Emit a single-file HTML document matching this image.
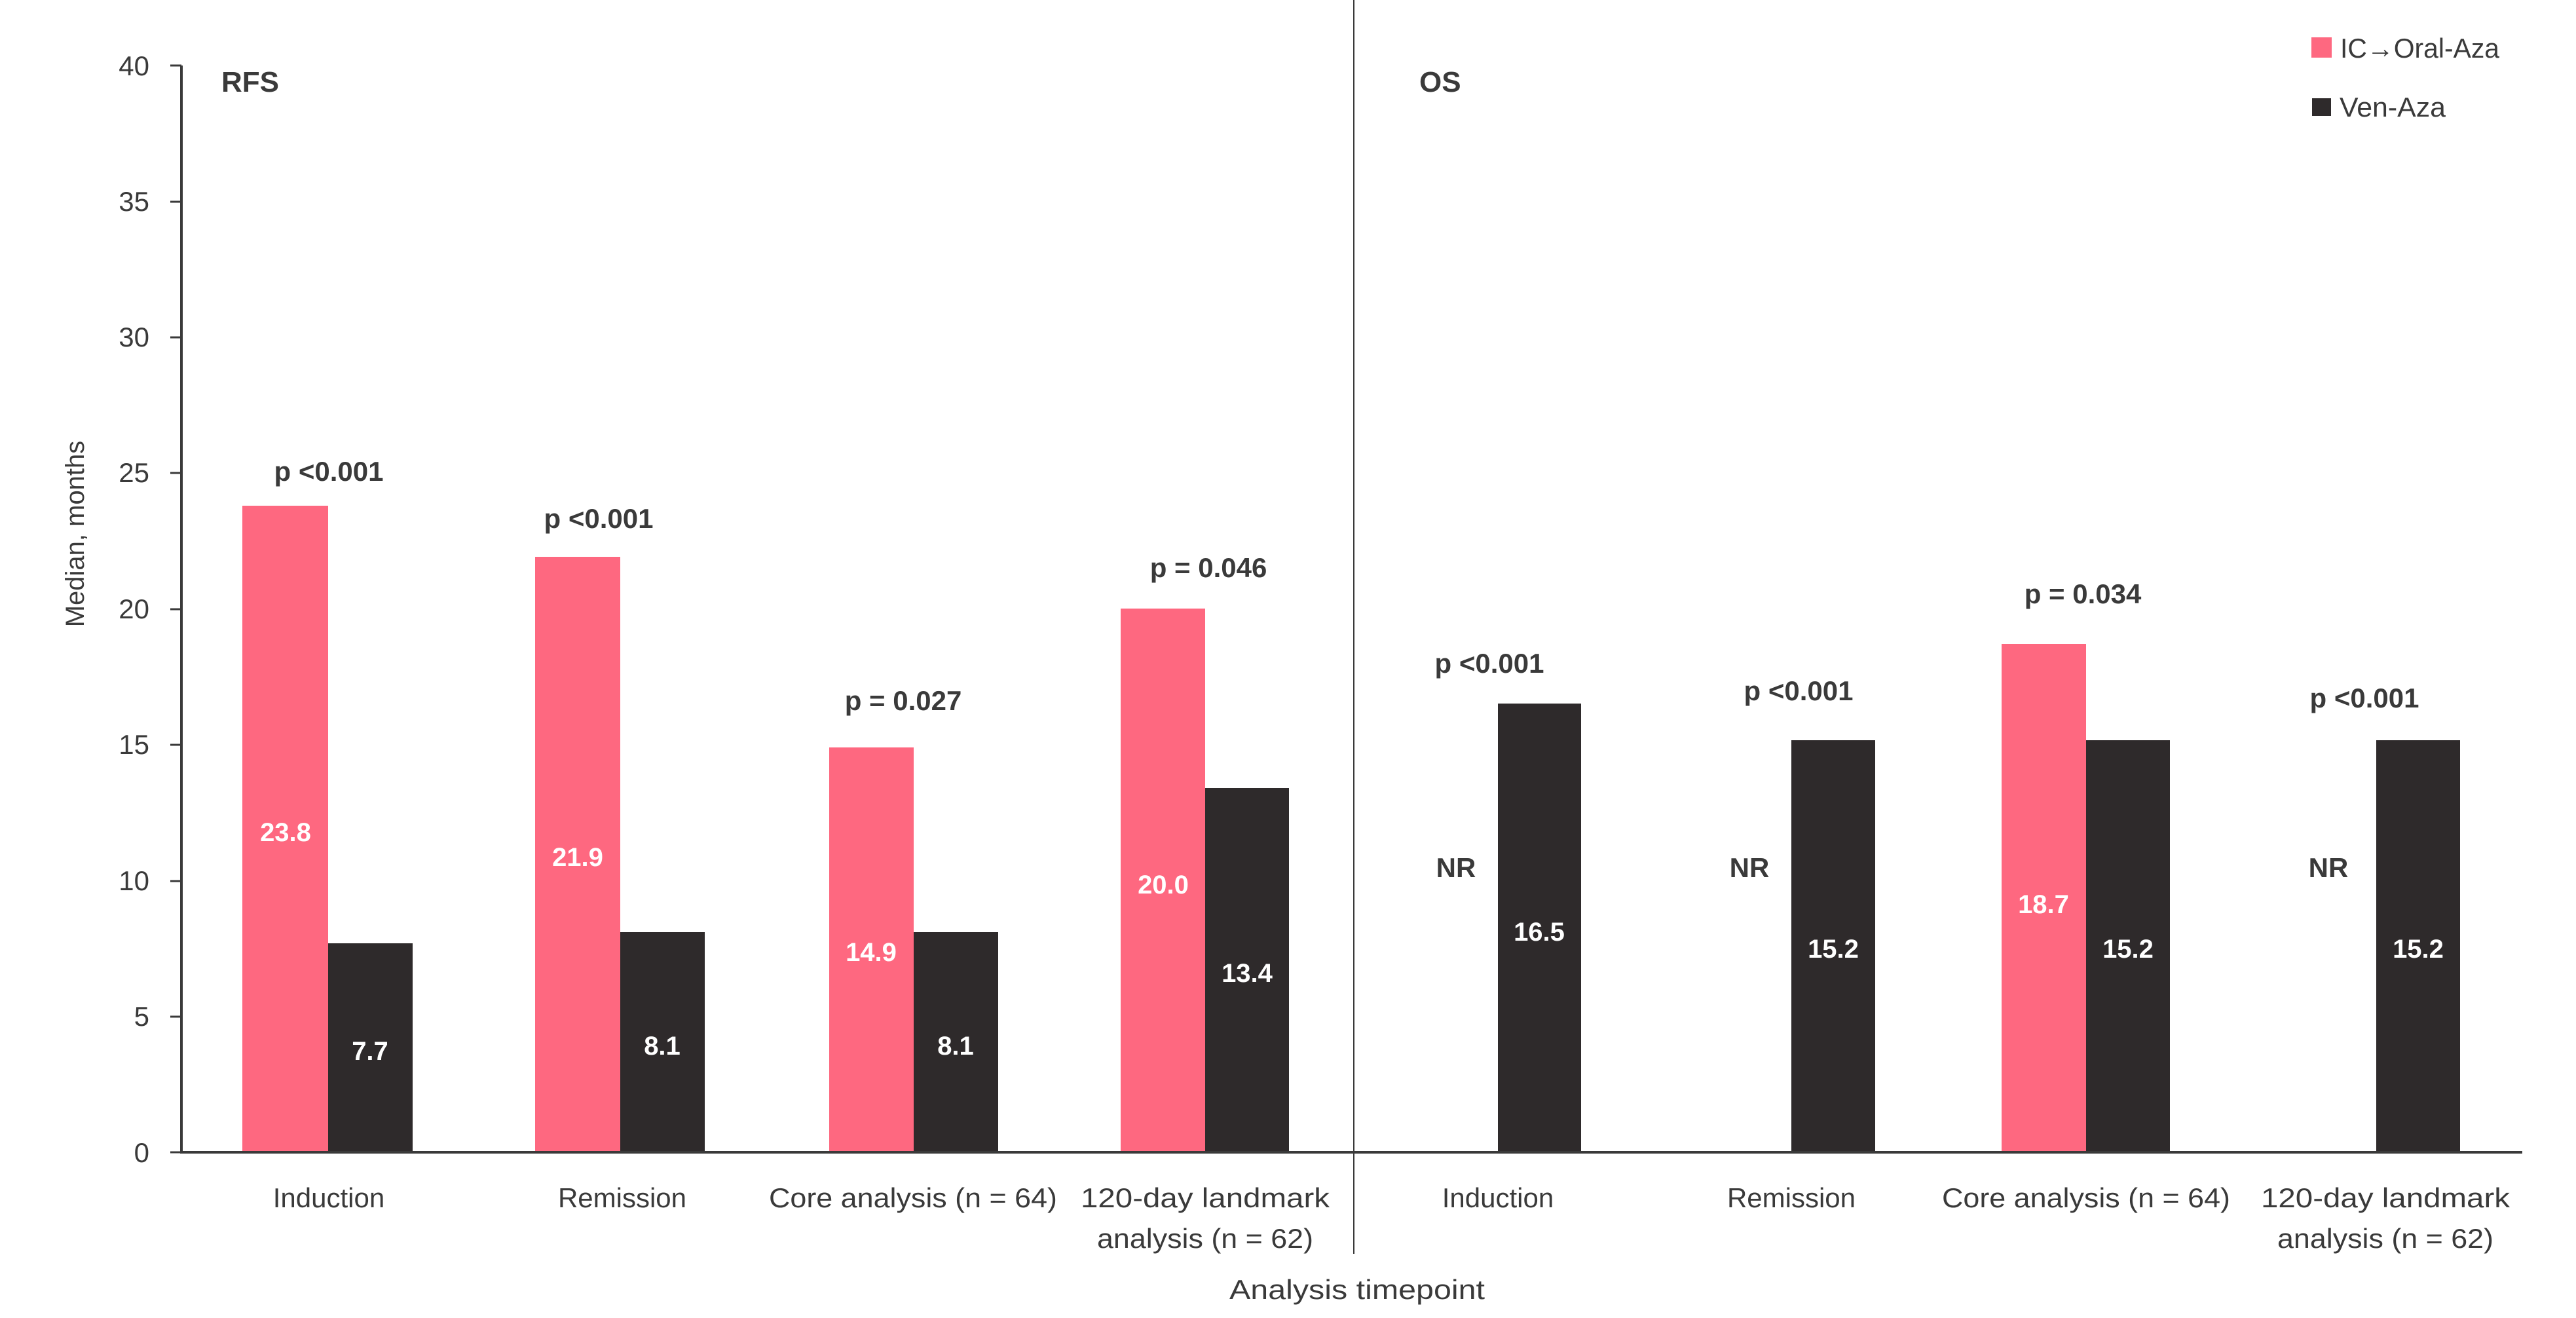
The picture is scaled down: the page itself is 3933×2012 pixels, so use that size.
<!DOCTYPE html>
<html><head><meta charset="utf-8"><style>
html,body{margin:0;padding:0;background:#fff;}
svg{display:block;}
text{font-family:"Liberation Sans",sans-serif;}
</style></head><body>
<svg width="3933" height="2012" viewBox="0 0 3933 2012" xmlns="http://www.w3.org/2000/svg">
<g fill="#3a3a3a" font-size="42" text-anchor="end">
<text x="228" y="1774">0</text>
<text x="228" y="1359">10</text>
<text x="228" y="1566">5</text>
<text x="228" y="1151">15</text>
<text x="228" y="944">20</text>
<text x="228" y="736">25</text>
<text x="228" y="529">30</text>
<text x="228" y="322">35</text>
<text x="228" y="115">40</text>
</g>
<g stroke="#3a3a3a" stroke-width="3">
<line x1="260" y1="100" x2="277" y2="100"/><line x1="260" y1="308" x2="277" y2="308"/>
<line x1="260" y1="515" x2="277" y2="515"/><line x1="260" y1="722" x2="277" y2="722"/>
<line x1="260" y1="930" x2="277" y2="930"/><line x1="260" y1="1137" x2="277" y2="1137"/>
<line x1="260" y1="1345" x2="277" y2="1345"/><line x1="260" y1="1552" x2="277" y2="1552"/>
<line x1="260" y1="1759" x2="277" y2="1759"/>
</g>
<line x1="277" y1="100" x2="277" y2="1761" stroke="#3a3a3a" stroke-width="4"/>
<line x1="2067" y1="0" x2="2067" y2="1914" stroke="#3a3a3a" stroke-width="2"/>
<text transform="translate(128,815) rotate(-90)" text-anchor="middle" font-size="40" fill="#3a3a3a">Median, months</text>
<text x="338" y="140" font-size="44" font-weight="bold" fill="#3a3a3a">RFS</text>
<text x="2167" y="140" font-size="44" font-weight="bold" fill="#3a3a3a">OS</text>
<g fill="#fe6880">
<rect x="370" y="772" width="131" height="987"/>
<rect x="817" y="850" width="130" height="909"/>
<rect x="1266" y="1141" width="129" height="618"/>
<rect x="1711" y="929" width="129" height="830"/>
<rect x="3056" y="983" width="129" height="776"/>
</g>
<g fill="#2e2a2b">
<rect x="501" y="1440" width="129" height="319"/>
<rect x="947" y="1423" width="129" height="336"/>
<rect x="1395" y="1423" width="129" height="336"/>
<rect x="1840" y="1203" width="128" height="556"/>
<rect x="2287" y="1074" width="127" height="685"/>
<rect x="2735" y="1130" width="128" height="629"/>
<rect x="3185" y="1130" width="128" height="629"/>
<rect x="3628" y="1130" width="128" height="629"/>
</g>
<line x1="277" y1="1759" x2="3851" y2="1759" stroke="#3a3a3a" stroke-width="4"/>
<g font-size="42" font-weight="bold" fill="#3a3a3a" text-anchor="middle">
<text x="502" y="734">p &lt;0.001</text>
<text x="914" y="806">p &lt;0.001</text>
<text x="1379" y="1084">p = 0.027</text>
<text x="1845" y="881">p = 0.046</text>
<text x="2274" y="1027">p &lt;0.001</text>
<text x="2746" y="1069">p &lt;0.001</text>
<text x="3180" y="921">p = 0.034</text>
<text x="3610" y="1080">p &lt;0.001</text>
<text x="2223" y="1339">NR</text>
<text x="2671" y="1339">NR</text>
<text x="3555" y="1339">NR</text>
</g>
<g font-size="40" font-weight="bold" fill="#fff" text-anchor="middle">
<text x="436" y="1284">23.8</text>
<text x="565" y="1618">7.7</text>
<text x="882" y="1322">21.9</text>
<text x="1011" y="1610">8.1</text>
<text x="1330" y="1467">14.9</text>
<text x="1459" y="1610">8.1</text>
<text x="1776" y="1364">20.0</text>
<text x="1904" y="1499">13.4</text>
<text x="2350" y="1436">16.5</text>
<text x="2799" y="1462">15.2</text>
<text x="3120" y="1394">18.7</text>
<text x="3249" y="1462">15.2</text>
<text x="3692" y="1462">15.2</text>
</g>
<g font-size="42" fill="#3a3a3a" text-anchor="middle">
<text x="502" y="1843">Induction</text>
<text x="950" y="1843">Remission</text>
<text x="1394" y="1843" textLength="440" lengthAdjust="spacingAndGlyphs">Core analysis (n = 64)</text>
<text x="1840" y="1843" textLength="380" lengthAdjust="spacingAndGlyphs">120-day landmark</text>
<text x="1840" y="1905" textLength="330" lengthAdjust="spacingAndGlyphs">analysis (n = 62)</text>
<text x="2287" y="1843">Induction</text>
<text x="2735" y="1843">Remission</text>
<text x="3185" y="1843" textLength="440" lengthAdjust="spacingAndGlyphs">Core analysis (n = 64)</text>
<text x="3642" y="1843" textLength="380" lengthAdjust="spacingAndGlyphs">120-day landmark</text>
<text x="3642" y="1905" textLength="330" lengthAdjust="spacingAndGlyphs">analysis (n = 62)</text>
<text x="2072" y="1983" textLength="390" lengthAdjust="spacingAndGlyphs">Analysis timepoint</text>
</g>
<rect x="3529" y="57" width="31" height="31" fill="#fe6880"/>
<rect x="3530" y="150" width="29" height="27" fill="#2e2a2b"/>
<g font-size="42" fill="#3a3a3a">
<text x="3573" y="88" textLength="243" lengthAdjust="spacingAndGlyphs">IC→Oral-Aza</text>
<text x="3572" y="178" textLength="162" lengthAdjust="spacingAndGlyphs">Ven-Aza</text>
</g>
</svg>
</body></html>
